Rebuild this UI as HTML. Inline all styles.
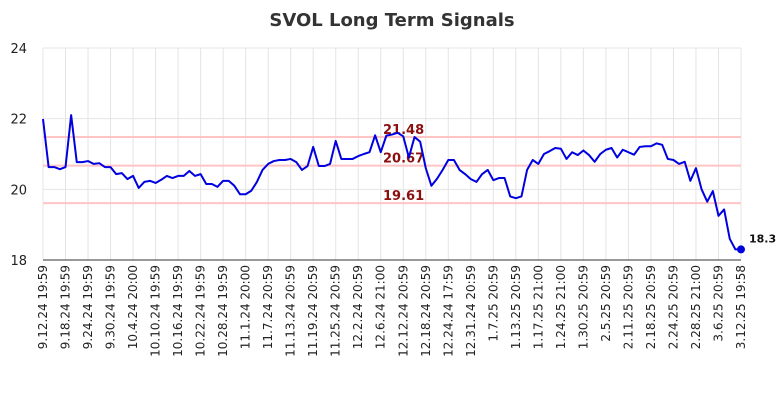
<!DOCTYPE html>
<html><head><meta charset="utf-8"><style>
body{margin:0;background:#fff;font-family:"Liberation Sans","DejaVu Sans",sans-serif}
svg text{font-family:"DejaVu Sans","Liberation Sans",sans-serif}
</style></head><body>
<svg id="c" width="784" height="400" xmlns="http://www.w3.org/2000/svg">
<text x="392" y="26" text-anchor="middle" font-size="18" font-weight="bold" fill="#333">SVOL Long Term Signals</text>
<g id="grid"></g><g id="lvl"></g><g id="ser"></g><g id="axes"></g>
</svg>
<script>
const xLabels=["9.12.24 19:59","9.18.24 19:59","9.24.24 19:59","9.30.24 19:59","10.4.24 20:00","10.10.24 19:59","10.16.24 19:59","10.22.24 19:59","10.28.24 19:59","11.1.24 20:00","11.7.24 20:59","11.13.24 20:59","11.19.24 20:59","11.25.24 20:59","12.2.24 20:59","12.6.24 21:00","12.12.24 20:59","12.18.24 20:59","12.24.24 17:59","12.31.24 20:59","1.7.25 20:59","1.13.25 20:59","1.17.25 21:00","1.24.25 21:00","1.30.25 20:59","2.5.25 20:59","2.11.25 20:59","2.18.25 20:59","2.24.25 20:59","2.28.25 21:00","3.6.25 20:59","3.12.25 19:58"];
const yTicks=[18,20,22,24];
const levels=[21.48,20.67,19.61];
const values=[21.99,20.63,20.63,20.57,20.63,22.1,20.77,20.77,20.8,20.72,20.74,20.63,20.63,20.43,20.46,20.29,20.38,20.04,20.21,20.24,20.18,20.27,20.38,20.32,20.38,20.38,20.52,20.38,20.43,20.15,20.15,20.07,20.24,20.24,20.1,19.86,19.86,19.96,20.21,20.55,20.72,20.8,20.83,20.83,20.86,20.77,20.55,20.66,21.2,20.66,20.66,20.72,21.37,20.86,20.86,20.86,20.94,21.0,21.05,21.53,21.05,21.52,21.55,21.6,21.5,20.9,21.48,21.35,20.6,20.1,20.3,20.55,20.83,20.83,20.55,20.43,20.29,20.21,20.43,20.55,20.26,20.32,20.32,19.8,19.75,19.8,20.55,20.83,20.72,21.0,21.08,21.17,21.15,20.86,21.05,20.97,21.1,20.97,20.78,21.0,21.12,21.17,20.9,21.12,21.05,20.98,21.2,21.22,21.22,21.3,21.26,20.86,20.83,20.72,20.78,20.24,20.6,20.0,19.65,19.95,19.25,19.43,18.6,18.3,18.3];
const NS="http://www.w3.org/2000/svg";
const L=43,R=741,T=48,B=260;
const y=v=>B-(v-18)/(24-18)*(B-T);
const xl=i=>L+i*(R-L)/(xLabels.length-1);
const xv=i=>L+i*(R-L)/(values.length-1);
function mk(p,t,a){const e=document.createElementNS(NS,t);for(const k in a)e.setAttribute(k,a[k]);document.getElementById(p).appendChild(e);return e;}
xLabels.forEach((s,i)=>{
 const g=mk('grid','line',{x1:xl(i),x2:xl(i),y1:T,y2:B,stroke:'#e4e4e4'});
 
 
 const t=mk('axes','text',{x:0,y:0,'font-size':12,fill:'#222','text-anchor':'end',transform:`translate(${xl(i)+4},265) rotate(-90)`});
 t.textContent=s;
 
 
});
yTicks.forEach(v=>{
 const g=mk('grid','line',{x1:L,x2:R,y1:y(v),y2:y(v),stroke:'#e4e4e4'});
 
 
 const t=mk('axes','text',{x:27,y:y(v)+5,'font-size':13,fill:'#222','text-anchor':'end'});
 t.textContent=v;
 
 
});
const ax=mk('axes','line',{x1:L,x2:R,y1:B,y2:B,stroke:'#333'});


levels.forEach(v=>{
 const l=mk('lvl','line',{x1:L,x2:R,y1:y(v),y2:y(v),stroke:'#ffc4c4','stroke-width':2});
 
 
 const t=mk('lvl','text',{x:383,y:y(v)-3,'font-size':13,'font-weight':'bold',fill:'#8b1010'});
 t.textContent=v.toFixed(2);
 
 
});
const pl=mk('ser','polyline',{points:values.map((v,i)=>xv(i)+','+y(v)).join(' '),fill:'none',stroke:'#0000e0','stroke-width':2,'stroke-linejoin':'round'});


const n=values.length-1;
const d=mk('ser','circle',{cx:xv(n),cy:y(values[n]),r:4,fill:'#0000e0'});


const lt=mk('ser','text',{x:xv(n)+8,y:y(values[n])-7,'font-size':11,'font-weight':'bold',fill:'#111'});
lt.textContent=values[n].toFixed(1);


</script>
</body></html>
